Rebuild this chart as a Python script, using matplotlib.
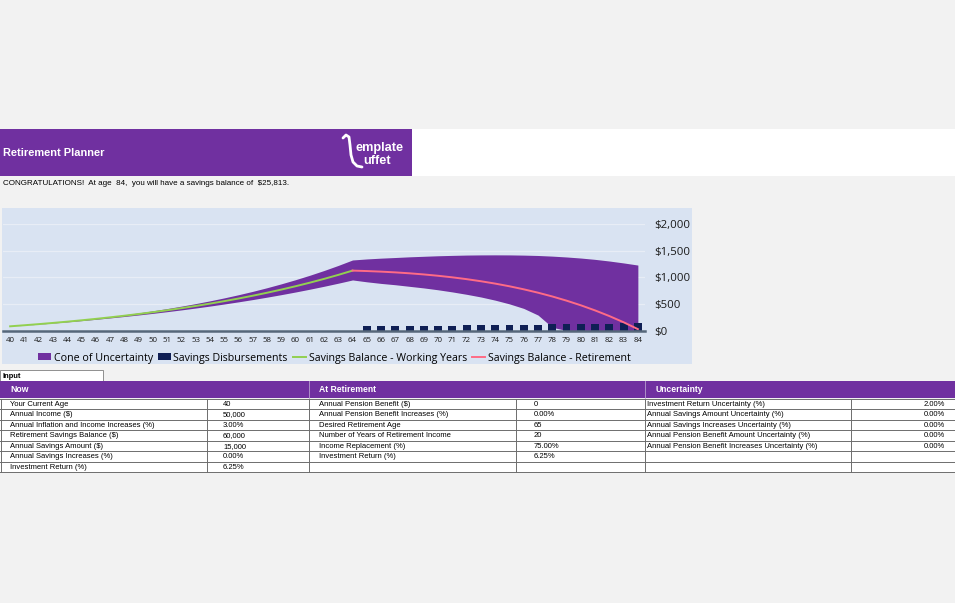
import matplotlib
matplotlib.use("Agg")
import matplotlib.pyplot as plt
from matplotlib.patches import Rectangle, Patch
from matplotlib.lines import Line2D

# ---------------- data (values in $ thousands) ----------------
ages = list(range(40, 85))
age_labels = [str(a) for a in ages]

working_ages = list(range(40, 65))
working_balance = [78.8, 98.7, 119.8, 142.3, 166.2, 191.6, 218.6, 247.3, 277.7, 310.1,
                   344.4, 381.0, 419.8, 461.0, 504.8, 551.4, 600.8, 653.4, 709.2, 768.6,
                   831.6, 898.6, 969.7, 1045.3, 1125.7]

retire_ages = list(range(64, 85))
retire_balance = [1125.7, 1117.5, 1106.5, 1092.4, 1074.9, 1053.7, 1028.6, 999.2, 965.1,
                  926.0, 881.5, 831.1, 774.3, 710.8, 639.9, 561.2, 474.0, 377.6, 271.5,
                  154.9, 25.8]

disb_ages = list(range(65, 85))
disbursements = [78.5, 80.9, 83.3, 85.8, 88.4, 91.0, 93.7, 96.5, 99.4, 102.4,
                 105.5, 108.7, 111.9, 115.3, 118.7, 122.3, 126.0, 129.7, 133.6, 137.6]

cone_upper = [78.8, 99.4, 121.6, 145.5, 171.1, 198.7, 228.3, 260.1, 294.1, 330.7,
              369.9, 412.0, 457.1, 505.4, 557.1, 612.6, 672.0, 735.6, 803.7, 876.6,
              954.7, 1038.2, 1127.6, 1223.2, 1325.6,
              1345, 1360, 1372, 1385, 1395, 1405, 1412, 1418, 1421, 1422,
              1421, 1417, 1410, 1398, 1382, 1362, 1337, 1306, 1270, 1230]
cone_lower = [78.8, 98.0, 118.3, 139.6, 161.9, 185.4, 210.1, 236.0, 263.3, 291.9,
              322.1, 353.7, 387.0, 422.1, 458.9, 497.6, 538.4, 581.2, 626.3, 673.6,
              723.5, 775.9, 831.0, 889.1, 950.1,
              915, 885, 860, 830, 800, 765, 725, 680, 630, 570,
              500, 415, 290, 60, 0, 0, 0, 0, 0, 0]

y_ticks = [0, 500, 1000, 1500, 2000]
y_tick_labels = ["$0", "$500", "$1,000", "$1,500", "$2,000"]

series_names = ["Cone of Uncertainty", "Savings Disbursements",
                "Savings Balance - Working Years", "Savings Balance - Retirement"]

title_text = "Retirement Planner"
congrats_text = "CONGRATULATIONS!  At age  84,  you will have a savings balance of  $25,813."

now_labels = ["Your Current Age", "Annual Income ($)", "Annual Inflation and Income Increases (%)",
              "Retirement Savings Balance ($)", "Annual Savings Amount ($)",
              "Annual Savings Increases (%)", "Investment Return (%)"]
now_values = ["40", "50,000", "3.00%", "60,000", "15,000", "0.00%", "6.25%"]
ret_labels = ["Annual Pension Benefit ($)", "Annual Pension Benefit Increases (%)",
              "Desired Retirement Age", "Number of Years of Retirement Income",
              "Income Replacement (%)", "Investment Return (%)", ""]
ret_values = ["0", "0.00%", "65", "20", "75.00%", "6.25%", ""]
unc_labels = ["Investment Return Uncertainty (%)", "Annual Savings Amount Uncertainty (%)",
              "Annual Savings Increases Uncertainty (%)", "Annual Pension Benefit Amount Uncertainty (%)",
              "Annual Pension Benefit Increases Uncertainty (%)", "", ""]
unc_values = ["2.00%", "0.00%", "0.00%", "0.00%", "0.00%", "", ""]

# ---------------- styles ----------------
W, H = 955, 603
PURPLE = "#7030a0"
NAVY = "#0f1f55"
GREEN = "#92d050"
PINK = "#ff6b86"
CHART_BG = "#d9e3f2"
PAGE_BG = "#f2f2f2"
TFONT = "Liberation Sans"
CFONT = "Open Sans"

fig = plt.figure(figsize=(W / 100, H / 100), dpi=100)
fig.patch.set_facecolor(PAGE_BG)


def fx(x):
    return x / W


def fy(y):
    return 1 - y / H


def rect(x0, y0, x1, y1, fc, ec="none", lw=0, z=0):
    fig.add_artist(Rectangle((fx(x0), fy(y1)), fx(x1) - fx(x0), fy(y0) - fy(y1),
                             transform=fig.transFigure, facecolor=fc, edgecolor=ec,
                             linewidth=lw, zorder=z))


def hline(x0, x1, y, color="#7f7f7f", lw=0.8, z=2):
    fig.add_artist(Line2D([fx(x0), fx(x1)], [fy(y), fy(y)], transform=fig.transFigure,
                          color=color, lw=lw, zorder=z))


def vline(x, y0, y1, color="#7f7f7f", lw=0.8, z=2):
    fig.add_artist(Line2D([fx(x), fx(x)], [fy(y0), fy(y1)], transform=fig.transFigure,
                          color=color, lw=lw, zorder=z))


# banner row
rect(0, 129, W, 176, "white")
rect(0, 129, 412, 176, PURPLE, z=1)
fig.text(fx(3), fy(153), title_text, color="white", fontsize=7.9, fontweight="bold",
         family=TFONT, va="center", ha="left", zorder=3)
# logo
fig.text(fx(355), fy(148), "emplate", color="white", fontsize=9.2, fontweight="bold",
         family=TFONT, va="center", ha="left", zorder=3)
fig.text(fx(363), fy(161.5), "uffet", color="white", fontsize=9.2, fontweight="bold",
         family=TFONT, va="center", ha="left", zorder=3)
lx = [343, 346, 349, 350, 351, 353, 357, 362]
ly = [138, 135, 137, 145, 155, 162, 166, 167]
fig.add_artist(Line2D([fx(v) for v in lx], [fy(v) for v in ly], transform=fig.transFigure,
                      color="white", lw=2, zorder=3, solid_capstyle="round"))

# congratulations row
fig.text(fx(3), fy(184), congrats_text, color="black", fontsize=5.75, family=TFONT,
         va="center", ha="left")

# chart background
rect(2, 208, 692, 364, CHART_BG, z=0)

# ---------------- chart ----------------
x_left, x_right = 3, 645
y_top, y_bot = 224.1, 330.5
ax = fig.add_axes([fx(x_left), fy(y_bot), fx(x_right) - fx(x_left), fy(y_top) - fy(y_bot)])
ax.set_facecolor(CHART_BG)
ax.patch.set_alpha(0)

ax.fill_between(ages, cone_lower, cone_upper, color=PURPLE, lw=0, zorder=2,
                label=series_names[0])
ax.bar(disb_ages, disbursements, width=0.55, color=NAVY, zorder=3, label=series_names[1])
ax.plot(working_ages, working_balance, color=GREEN, lw=1.4, zorder=4, label=series_names[2])
ax.plot(retire_ages, retire_balance, color=PINK, lw=1.4, zorder=4, label=series_names[3])

ax.set_xlim(39.5, 84.5)
ax.set_ylim(0, 2000)
ax.set_yticks(y_ticks)
ax.set_yticklabels(y_tick_labels)
ax.yaxis.tick_right()
ax.set_xticks(ages)
ax.set_xticklabels(age_labels)
ax.tick_params(axis="x", length=0, pad=5, labelsize=5.7, labelcolor="#1a1a1a")
ax.tick_params(axis="y", length=0, pad=7, labelsize=8.2, labelcolor="#1a1a1a")
for lab in ax.get_xticklabels() + ax.get_yticklabels():
    lab.set_family(CFONT)
ax.grid(axis="y", color="#e8edf6", lw=0.9, zorder=1)
ax.set_axisbelow(True)
for s in ["top", "left", "right"]:
    ax.spines[s].set_visible(False)
ax.spines["bottom"].set_color("#56677a")
ax.spines["bottom"].set_linewidth(1.8)
ax.spines["bottom"].set_zorder(5)

handles = [Patch(facecolor=PURPLE, edgecolor="none"),
           Patch(facecolor=NAVY, edgecolor="none"),
           Line2D([0], [0], color=GREEN, lw=1.4),
           Line2D([0], [0], color=PINK, lw=1.4)]
fig.legend(handles, series_names, loc="center", bbox_to_anchor=(fx(334), fy(358)),
           ncol=4, frameon=False, handlelength=1.3, handleheight=0.6, handletextpad=0.2,
           columnspacing=0.45, prop={"family": CFONT, "size": 7.65}, borderpad=0, borderaxespad=0)

# ---------------- tables ----------------
rect(0, 370, 103, 381, "white", ec="#7f7f7f", lw=0.6, z=1)
fig.text(fx(2), fy(376), "Input", color="black", fontsize=5.4, fontweight="bold",
         family=TFONT, va="center", ha="left")

rect(0, 381, W, 398, PURPLE, z=1)
vline(309, 381, 398, color="#b7a0cf", lw=0.6)
vline(645, 381, 398, color="#b7a0cf", lw=0.6)
for x, s in [(10, "Now"), (319, "At Retirement"), (655, "Uncertainty")]:
    fig.text(fx(x), fy(390), s, color="white", fontsize=6.2, fontweight="bold",
             family=TFONT, va="center", ha="left")

row_lines = [398.5, 409, 419.5, 430, 440.6, 451.1, 461.7, 472.3]
rect(0, row_lines[0], W, row_lines[-1], "white", z=1)
for y in row_lines:
    hline(0, W, y, color="#6d6d6d", lw=0.7)
for x in [0.5, 207, 309, 516, 645, 851]:
    vline(x, row_lines[0], row_lines[-1], color="#6d6d6d", lw=0.7)

for i in range(7):
    yc = (row_lines[i] + row_lines[i + 1]) / 2 + 0.3
    kw = dict(color="black", fontsize=5.5, family=TFONT, va="center")
    fig.text(fx(10), fy(yc), now_labels[i], ha="left", **kw)
    fig.text(fx(223), fy(yc), now_values[i], ha="left", **kw)
    fig.text(fx(319), fy(yc), ret_labels[i], ha="left", **kw)
    fig.text(fx(534), fy(yc), ret_values[i], ha="left", **kw)
    fig.text(fx(647), fy(yc), unc_labels[i], ha="left", **kw)
    fig.text(fx(945), fy(yc), unc_values[i], ha="right", **kw)

fig.savefig("out.png", dpi=100, facecolor=fig.get_facecolor())
